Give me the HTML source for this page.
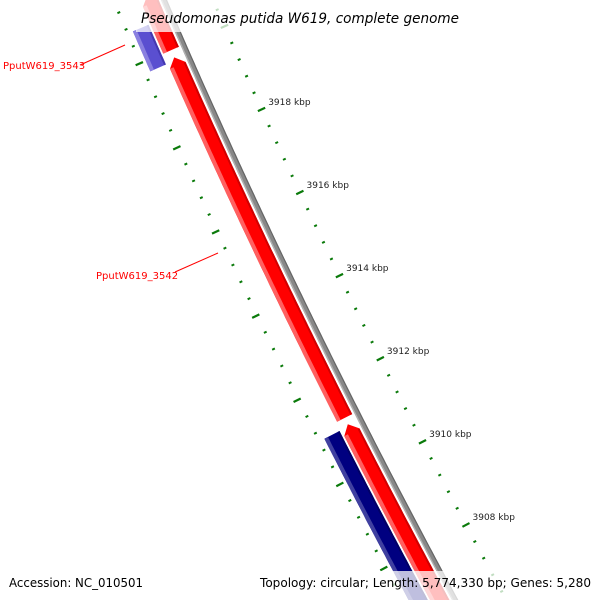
<!DOCTYPE html>
<html><head><meta charset="utf-8"><style>
html,body{margin:0;padding:0;background:#fff;overflow:hidden;width:600px;height:600px;}
svg{display:block;font-family:"DejaVu Sans","Liberation Sans",sans-serif;}
</style></head><body>
<svg id="map" width="600" height="600" viewBox="0 0 600 600" xmlns="http://www.w3.org/2000/svg" overflow="hidden">
<g id="tracks"></g>
<g id="ticks"></g>
<g id="labels">
 <line x1="80" y1="65" x2="125" y2="45" stroke="#f00" stroke-width="1"/>
 <text x="3" y="69" font-size="10" fill="#f00">PputW619_3543</text>
 <line x1="175" y1="272" x2="218" y2="253" stroke="#f00" stroke-width="1"/>
 <text x="96" y="279" font-size="10" fill="#f00">PputW619_3542</text>
</g>
<rect x="136" y="0" width="330" height="32" fill="#fff" fill-opacity="0.75"/>
<text x="141" y="23" font-size="14" font-style="italic" fill="#000" textLength="318" lengthAdjust="spacingAndGlyphs">Pseudomonas putida W619, complete genome</text>
<rect x="4" y="571" width="146" height="29" fill="#fff" fill-opacity="0.75"/>
<text x="9" y="587" font-size="12.5" fill="#000" textLength="134" lengthAdjust="spacingAndGlyphs">Accession: NC_010501</text>
<rect x="255" y="571" width="341" height="29" fill="#fff" fill-opacity="0.75"/>
<text x="260" y="587" font-size="12.5" fill="#000" textLength="331" lengthAdjust="spacingAndGlyphs">Topology: circular; Length: 5,774,330 bp; Genes: 5,280</text>
</svg>
<script>
// data
const featStart = [3921.3, 3919.82, 3911.06, 3920.7, 3911.01];
const featEnd   = [3919.99, 3911.21, 3906.2, 3919.75, 3906.2];
const featStrand = [1, 1, 1, -1, -1];
const featName = ['gene-red-top','gene-3542','gene-red-bottom','gene-3543','gene-navy'];
const majorTicks = [3920, 3918, 3916, 3914, 3912, 3910, 3908, 3906];
const majorLabels = ['3920 kbp','3918 kbp','3916 kbp','3914 kbp','3912 kbp','3910 kbp','3908 kbp','3906 kbp'];

const NS='http://www.w3.org/2000/svg';
function yOf(k){return 128+(3918-k)*41.8;}
function bx(y){return 164+0.43*y+9.2e-5*y*y;}
function pt(y,d){const s=0.43+1.84e-4*y;const n=Math.sqrt(1+s*s);return [bx(y)+d/n, y-d*s/n];}
function band(y1,y2,d1,d2,tip){
  const a=[],b=[];const yt=tip?y1+8:y1;
  for(let y=yt;y<=y2;y+=4){a.push(pt(y,d1));b.push(pt(y,d2));}
  a.push(pt(y2,d1));b.push(pt(y2,d2));
  let p=a.concat(b.reverse());
  if(tip){p.push(pt(y1,(d1+d2)/2));}
  return p.map(q=>q[0].toFixed(1)+','+q[1].toFixed(1)).join(' ');
}
function poly(g,pts,fill,name){const e=document.createElementNS(NS,'polygon');e.setAttribute('points',pts);e.setAttribute('fill',fill);


g.appendChild(e);return e;}
const tg=document.getElementById('tracks');
poly(tg,band(-20,610,-2.8,2.8,false),'#888','backbone');
poly(tg,band(-20,610,-2.8,-1.4,false),'#b0b0b0','backbone-highlight');
poly(tg,band(-20,610,1.6,2.8,false),'#666','backbone-shadow');
for(let i=0;i<featStart.length;i++){
  const y1=yOf(featStart[i]),y2=Math.min(yOf(featEnd[i]),610);
  const d1=featStrand[i]>0?-22:-41,d2=featStrand[i]>0?-5:-24;
  const col=featStrand[i]>0?'#ff0000':(i===3?'#5a4fd0':'#000080');
  const lt=featStrand[i]>0?'#ff6060':(i===3?'#8a80e0':'#4040a0');
  const dk=featStrand[i]>0?'#d00000':(i===3?'#4438b0':'#000066');
  const tip=featStrand[i]>0;
  const e=poly(tg,band(y1,y2,d1,d2,tip),col,featName[i]);
  
  poly(tg,band(y1+(tip?8:0),y2,d1,d1+4,false),lt,featName[i]+'-highlight');
  poly(tg,band(y1+(tip?8:0),y2,d2-2,d2,false),dk,featName[i]+'-shadow');
}
const kg=document.getElementById('ticks');
function tick(k,d1,d2,w,name){const y=yOf(k);const a=pt(y,d1),b=pt(y,d2);
if(a[1]>598||b[1]>598)return;
const l=document.createElementNS(NS,'line');
l.setAttribute('x1',a[0]);l.setAttribute('y1',a[1]);l.setAttribute('x2',b[0]);l.setAttribute('y2',b[1]);
l.setAttribute('stroke','#0a7a0a');l.setAttribute('stroke-width',w);


kg.appendChild(l);}
for(let m=0;m<=40;m++){
  const k=3922-m*0.4; const major=(m%5===0);
  if(major){tick(k,41,49,2.2,'outer-major-tick');tick(k,-44,-52,2.2,'inner-major-tick');}
  else{tick(k,43.5,46.5,2,'outer-minor-tick');tick(k,-45,-48,2,'inner-minor-tick');}
}
for(let i=0;i<majorTicks.length;i++){
  const y=yOf(majorTicks[i]);const p=pt(y,49);
  if(p[1]-3>565||p[1]<35)continue;
  const t=document.createElementNS(NS,'text');
  t.setAttribute('x',(p[0]+3).toFixed(1));t.setAttribute('y',(p[1]-3).toFixed(1));
  t.setAttribute('font-size','9');t.setAttribute('fill','#222');
  
  
  t.textContent=majorLabels[i];kg.appendChild(t);
}
</script>
</body></html>
